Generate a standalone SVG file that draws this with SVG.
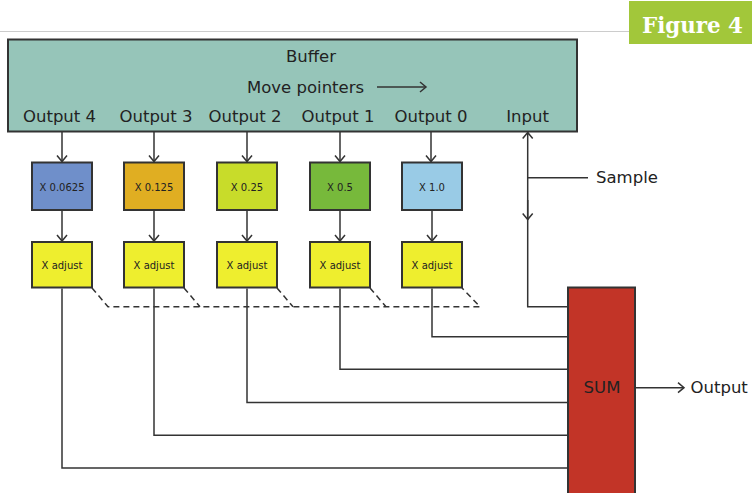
<svg xmlns="http://www.w3.org/2000/svg" width="752" height="493" viewBox="0 0 752 493">
<style>
.t{font-family:"DejaVu Sans","Liberation Sans",sans-serif;fill:#222}
.lbl{font-size:16.5px}
.sm{font-size:10px;text-anchor:middle}
.box{stroke:#333;stroke-width:2}
.ln{fill:none;stroke:#333;stroke-width:1.5}
.dash{fill:none;stroke:#333;stroke-width:1.5;stroke-dasharray:6,4}
</style>
<defs>
<marker id="ah" markerUnits="userSpaceOnUse" markerWidth="14" markerHeight="14" viewBox="-8 -7 10 14" refX="0" refY="0" orient="auto">
<path d="M-6,-5 L0,0 L-6,5" fill="none" stroke="#333" stroke-width="1.5"/>
</marker>
</defs>
<rect width="752" height="493" fill="#fff"/>
<g id="header">
<line x1="0" y1="31.5" x2="629" y2="31.5" stroke="#cccccc" stroke-width="1"/>
<rect x="629" y="1" width="123" height="43" fill="#a2c73a"/>
<text x="642" y="33" font-family="'DejaVu Serif','Liberation Serif',serif" font-weight="bold" font-size="22" fill="#fff" textLength="101" lengthAdjust="spacingAndGlyphs">Figure 4</text>
</g>
<g id="buffer">
<rect class="box" x="8" y="39.5" width="569" height="92" fill="#96c5b9"/>
<text class="t lbl" x="311" y="61.5" text-anchor="middle">Buffer</text>
<text class="t lbl" x="247" y="93">Move pointers</text>
<line class="ln" x1="377" y1="87" x2="426" y2="87" marker-end="url(#ah)"/>
<text class="t lbl" x="59.5" y="121.5" text-anchor="middle">Output 4</text>
<text class="t lbl" x="156" y="121.5" text-anchor="middle">Output 3</text>
<text class="t lbl" x="245" y="121.5" text-anchor="middle">Output 2</text>
<text class="t lbl" x="338" y="121.5" text-anchor="middle">Output 1</text>
<text class="t lbl" x="431" y="121.5" text-anchor="middle">Output 0</text>
<text class="t lbl" x="527.5" y="121.5" text-anchor="middle">Input</text>
</g>
<g id="mul4"><rect class="box" x="32" y="162.5" width="60" height="47.5" fill="#6f8fca"/><text class="t sm" x="62" y="190.5">X 0.0625</text></g>
<g id="mul3"><rect class="box" x="124" y="162.5" width="60" height="47.5" fill="#e0ae22"/><text class="t sm" x="154" y="190.5">X 0.125</text></g>
<g id="mul2"><rect class="box" x="217" y="162.5" width="60" height="47.5" fill="#c8dc2a"/><text class="t sm" x="247" y="190.5">X 0.25</text></g>
<g id="mul1"><rect class="box" x="310" y="162.5" width="60" height="47.5" fill="#77b93b"/><text class="t sm" x="340" y="190.5">X 0.5</text></g>
<g id="mul0"><rect class="box" x="402" y="162.5" width="60" height="47.5" fill="#99cbe6"/><text class="t sm" x="432" y="190.5">X 1.0</text></g>
<g id="adj4"><rect class="box" x="32" y="242" width="60" height="45.5" fill="#eeee2e"/><text class="t sm" x="62" y="269">X adjust</text></g>
<g id="adj3"><rect class="box" x="124" y="242" width="60" height="45.5" fill="#eeee2e"/><text class="t sm" x="154" y="269">X adjust</text></g>
<g id="adj2"><rect class="box" x="217" y="242" width="60" height="45.5" fill="#eeee2e"/><text class="t sm" x="247" y="269">X adjust</text></g>
<g id="adj1"><rect class="box" x="310" y="242" width="60" height="45.5" fill="#eeee2e"/><text class="t sm" x="340" y="269">X adjust</text></g>
<g id="adj0"><rect class="box" x="402" y="242" width="60" height="45.5" fill="#eeee2e"/><text class="t sm" x="432" y="269">X adjust</text></g>
<g id="sum">
<rect class="box" x="568" y="287.5" width="67" height="215" fill="#c23427"/>
<text class="t lbl" x="602" y="393" text-anchor="middle">SUM</text>
</g>
<g id="labels">
<text class="t lbl" x="596" y="183">Sample</text>
<text class="t lbl" x="690.5" y="393">Output</text>
</g>
<g id="connectors">
<line class="ln" x1="62" y1="132" x2="62" y2="161.5" marker-end="url(#ah)"/>
<line class="ln" x1="154" y1="132" x2="154" y2="161.5" marker-end="url(#ah)"/>
<line class="ln" x1="247" y1="132" x2="247" y2="161.5" marker-end="url(#ah)"/>
<line class="ln" x1="340" y1="132" x2="340" y2="161.5" marker-end="url(#ah)"/>
<line class="ln" x1="431" y1="132" x2="431" y2="161.5" marker-end="url(#ah)"/>
<line class="ln" x1="62" y1="211" x2="62" y2="241" marker-end="url(#ah)"/>
<line class="ln" x1="154" y1="211" x2="154" y2="241" marker-end="url(#ah)"/>
<line class="ln" x1="247" y1="211" x2="247" y2="241" marker-end="url(#ah)"/>
<line class="ln" x1="340" y1="211" x2="340" y2="241" marker-end="url(#ah)"/>
<line class="ln" x1="432" y1="211" x2="432" y2="241" marker-end="url(#ah)"/>
<polyline class="ln" points="432,288.5 432,336.7 568,336.7"/>
<polyline class="ln" points="340,288.5 340,369.3 568,369.3"/>
<polyline class="ln" points="247,288.5 247,402.5 568,402.5"/>
<polyline class="ln" points="154,288.5 154,435.3 568,435.3"/>
<polyline class="ln" points="62,288.5 62,468 568,468"/>
<polyline class="dash" points="92,288 108,306.7 480,306.7 462,288"/>
<line class="dash" x1="184" y1="288" x2="200" y2="306.7"/>
<line class="dash" x1="277" y1="288" x2="293" y2="306.7"/>
<line class="dash" x1="370" y1="288" x2="386" y2="306.7"/>
<polyline class="ln" points="568,306.7 527.7,306.7 527.7,132.5"/>
<line class="ln" x1="527.7" y1="135" x2="527.7" y2="132.5" marker-end="url(#ah)"/>
<line class="ln" x1="527.7" y1="200" x2="527.7" y2="219.5" marker-end="url(#ah)"/>
<line class="ln" x1="527.7" y1="177.7" x2="588" y2="177.7"/>
<line class="ln" x1="636" y1="387.7" x2="684" y2="387.7" marker-end="url(#ah)"/>
</g>
</svg>
